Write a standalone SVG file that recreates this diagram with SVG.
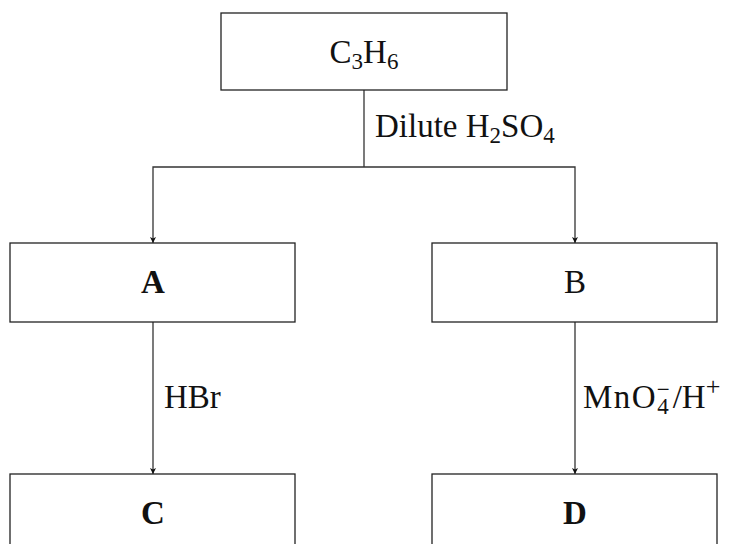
<svg xmlns="http://www.w3.org/2000/svg" width="730" height="544" viewBox="0 0 730 544">
<style>
.box{fill:#fff;stroke:#222;stroke-width:1.3}
.t{font-family:"Liberation Serif","Times New Roman",serif;font-size:33px;fill:#111}
.b{font-weight:bold;text-anchor:middle}
.c{text-anchor:middle}
.s{font-size:23px}
.ln{fill:none;stroke:#333;stroke-width:1.3}
</style>
<defs>
<marker id="ah" markerWidth="6" markerHeight="6" refX="6" refY="3" orient="auto" markerUnits="userSpaceOnUse">
<path d="M0,0 L6,3 L0,6 L1.5,3 Z" fill="#111"/>
</marker>
</defs>
<g id="connectors">
<path class="ln" d="M364,90 V167"/>
<path class="ln" d="M364,167 H153 V243" marker-end="url(#ah)"/>
<path class="ln" d="M364,167 H575 V243" marker-end="url(#ah)"/>
<path class="ln" d="M153,322 V474" marker-end="url(#ah)"/>
<path class="ln" d="M575,322 V474" marker-end="url(#ah)"/>
<text class="t" x="375" y="137">Dilute H<tspan class="s" dy="6">2</tspan><tspan dy="-6">SO</tspan><tspan class="s" dy="6">4</tspan></text>
<text class="t" x="164" y="408">HBr</text>
<text class="t" x="583" y="408"><tspan letter-spacing="1.5">MnO</tspan><tspan class="s" dy="6">4</tspan><tspan class="s" dx="-12" dy="-17">−</tspan><tspan dx="3" dy="11">/H</tspan><tspan font-size="26" dy="-13">+</tspan></text>
</g>
<g id="node-C3H6">
<rect class="box" x="221" y="13" width="286" height="77"/>
<text class="t c" x="364" y="63">C<tspan class="s" dy="6">3</tspan><tspan dy="-6">H</tspan><tspan class="s" dy="6">6</tspan></text>
</g>
<g id="node-A">
<rect class="box" x="10" y="243" width="285" height="79"/>
<text class="t b" x="153" y="293">A</text>
</g>
<g id="node-B">
<rect class="box" x="432" y="243" width="285" height="79"/>
<text class="t c" x="575" y="293">B</text>
</g>
<g id="node-C">
<rect class="box" x="10" y="474" width="285" height="90"/>
<text class="t b" x="153" y="524">C</text>
</g>
<g id="node-D">
<rect class="box" x="432" y="474" width="285" height="90"/>
<text class="t b" x="575" y="524">D</text>
</g>
</svg>
